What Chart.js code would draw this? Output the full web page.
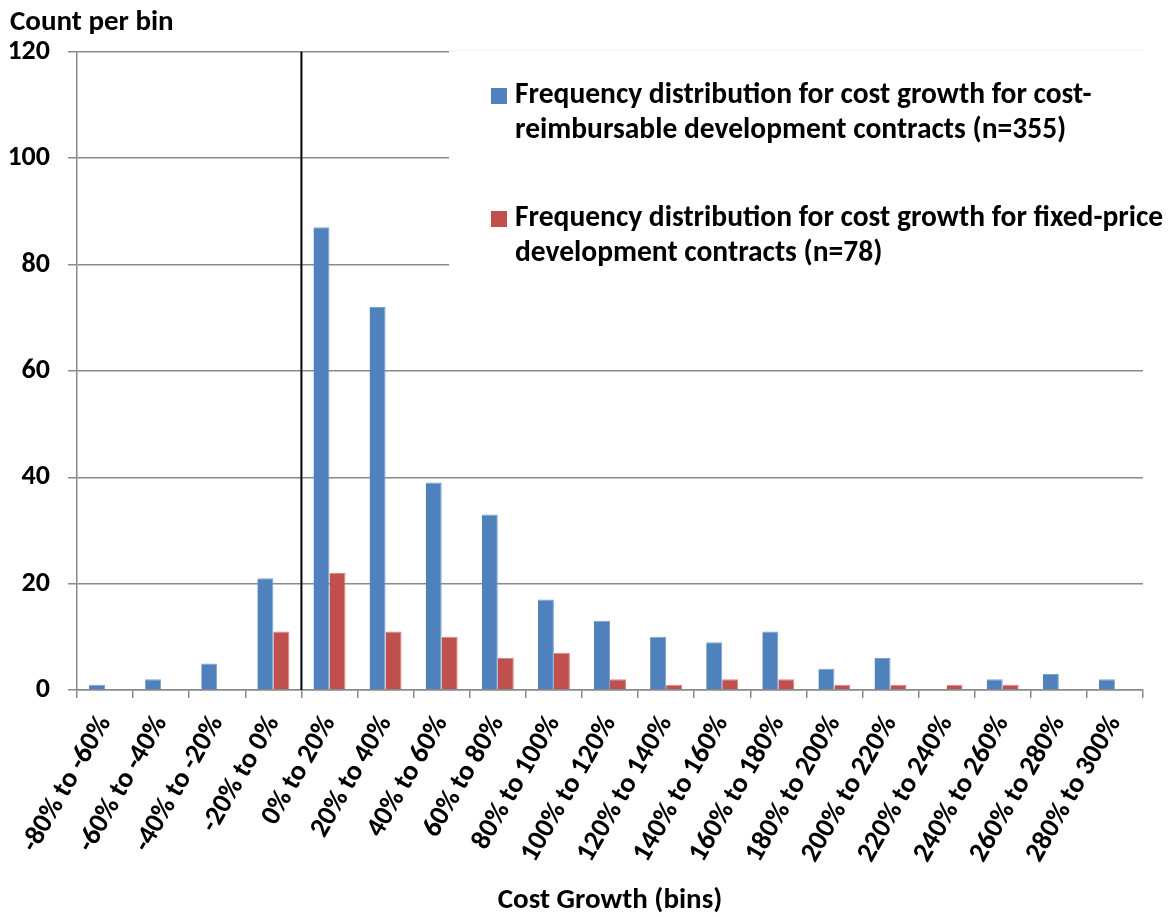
<!DOCTYPE html>
<html lang="en">
<head>
    <meta charset="UTF-8">
    <title>Cost growth frequency distribution</title>
    <style type="text/css">
        body { margin: 0; background: #fff; }
        .chartBox { width: 1168px; height: 918px; }
    </style>
</head>
<body>
    <div class="chartBox">
        <canvas id="myChart"></canvas>
    </div>

    <script src="https://cdn.jsdelivr.net/npm/chart.js"></script>

    <script>
        const bins = ['-80% to -60%', '-60% to -40%', '-40% to -20%', '-20% to 0%', '0% to 20%',
          '20% to 40%', '40% to 60%', '60% to 80%', '80% to 100%', '100% to 120%', '120% to 140%',
          '140% to 160%', '160% to 180%', '180% to 200%', '200% to 220%', '220% to 240%',
          '240% to 260%', '260% to 280%', '280% to 300%'];
        const costReimbursable = [1, 2, 5, 21, 87, 72, 39, 33, 17, 13, 10, 9, 11, 4, 6, 0, 2, 3, 2];
        const fixedPrice = [0, 0, 0, 11, 22, 11, 10, 6, 7, 2, 1, 2, 2, 1, 1, 1, 1, 0, 0];
        const yTicks = [0, 20, 40, 60, 80, 100, 120];
        const legendLines = [
          ['Frequency distribution for cost growth for cost-', 'reimbursable development contracts (n=355)'],
          ['Frequency distribution for cost growth for fixed-price', 'development contracts (n=78)']
        ];

        const FONT = 'Carlito, Lato, sans-serif';
        const GRID = '#8a8a8a';

        // black divider between the negative and positive bins
        const zeroLine = {
          id: 'zeroLine',
          afterDatasetsDraw(chart) {
            const {ctx, chartArea, scales: {x}} = chart;
            const px = (x.getPixelForValue(3) + x.getPixelForValue(4)) / 2;
            ctx.save();
            ctx.strokeStyle = '#000';
            ctx.lineWidth = 2;
            ctx.beginPath();
            ctx.moveTo(px, chartArea.top);
            ctx.lineTo(px, chartArea.bottom);
            ctx.stroke();
            ctx.restore();
          }
        };

        // legend sits inside the plot on a white box, text wrapped on two lines
        const boxLegend = {
          id: 'boxLegend',
          afterDraw(chart) {
            const {ctx, chartArea} = chart;
            ctx.save();
            ctx.fillStyle = '#fff';
            ctx.fillRect(449, chartArea.top - 2, chartArea.right - 449 + 1, 240);
            ctx.strokeStyle = '#f2f2f2';
            ctx.lineWidth = 1;
            ctx.beginPath();
            ctx.moveTo(449, chartArea.top - 1.5);
            ctx.lineTo(chartArea.right, chartArea.top - 1.5);
            ctx.stroke();
            ctx.font = 'bold 29.5px ' + FONT;
            ctx.textBaseline = 'middle';
            chart.data.datasets.forEach((ds, i) => {
              const y0 = 96 + i * 123;
              ctx.fillStyle = ds.backgroundColor;
              ctx.fillRect(491, y0 - 8, 16, 16);
              ctx.fillStyle = '#000';
              legendLines[i].forEach((line, j) => ctx.fillText(line, 515, y0 + j * 35));
            });
            ctx.restore();
          }
        };

        const ctx = document.getElementById('myChart');
        new Chart(ctx, {
          type: 'bar',
          data: {
            labels: bins,
            datasets: [{
              label: legendLines[0].join(''),
              data: costReimbursable,
              backgroundColor: '#4F81BD',
              borderColor: '#7da1cf',
              borderWidth: {top: 1, left: 0, right: 1, bottom: 0},
              categoryPercentage: 0.57,
              barPercentage: 1.0
            }, {
              label: legendLines[1].join(' '),
              data: fixedPrice,
              backgroundColor: '#C0504D',
              borderColor: '#d98684',
              borderWidth: {top: 1, left: 0, right: 1, bottom: 0},
              categoryPercentage: 0.57,
              barPercentage: 1.0
            }]
          },
          options: {
            responsive: true,
            maintainAspectRatio: false,
            animation: false,
            layout: {padding: {left: 10, right: 25, top: 0, bottom: 0}},
            plugins: {
              legend: {display: false},
              tooltip: {enabled: false},
              title: {
                display: true,
                text: 'Count per bin',
                align: 'start',
                color: '#000',
                font: {family: FONT, size: 29, weight: 'bold'},
                padding: {top: 5, bottom: 12}
              }
            },
            scales: {
              x: {
                grid: {
                  drawOnChartArea: false,
                  drawTicks: true,
                  tickLength: 8,
                  color: GRID,
                  lineWidth: 1.5
                },
                border: {color: GRID, width: 1.5},
                ticks: {
                  autoSkip: false,
                  minRotation: 60,
                  maxRotation: 60,
                  padding: 12,
                  color: '#000',
                  font: {family: FONT, size: 28, weight: 'bold'}
                },
                title: {
                  display: true,
                  text: 'Cost Growth (bins)',
                  color: '#000',
                  font: {family: FONT, size: 29, weight: 'bold'},
                  padding: {top: 0, bottom: 0}
                },
                afterFit(scale) { scale.height = 228; }
              },
              y: {
                min: 0,
                max: 120,
                afterBuildTicks(scale) { scale.ticks = yTicks.map(v => ({value: v})); },
                grid: {
                  color: GRID,
                  lineWidth: 1.5,
                  tickLength: 9
                },
                border: {color: GRID, width: 1.5},
                ticks: {
                  padding: 18,
                  color: '#000',
                  font: {family: FONT, size: 28, weight: 'bold'}
                },
                afterFit(scale) { scale.width = 67; }
              }
            }
          },
          plugins: [zeroLine, boxLegend]
        });
      </script>
</body>
</html>
